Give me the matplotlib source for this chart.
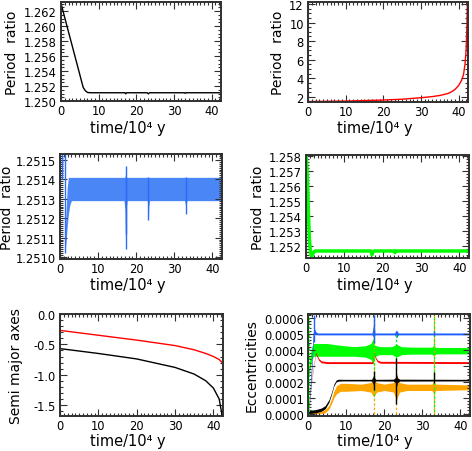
import numpy as np
import matplotlib
matplotlib.use("Agg")
import matplotlib.pyplot as plt
from matplotlib.ticker import MultipleLocator, AutoMinorLocator, FormatStrFormatter

plt.rcParams['font.family'] = ['DejaVu Sans']
plt.rcParams['mathtext.default'] = 'regular'

# ---------------- data ----------------
# Panel 1: period ratio (black)
p1_t = [0.0, 5.9, 6.5, 7.1, 8.0, 17.0, 17.2, 17.4, 22.9, 23.2, 23.5, 32.8, 33.0, 33.2, 42.3]
p1_r = [1.2630, 1.2518, 1.25135, 1.25113, 1.2511, 1.2511, 1.25095, 1.2511, 1.2511, 1.25095, 1.2511,
        1.2511, 1.25102, 1.2511, 1.2511]

# Panel 2: period ratio (red)
p2_t = [0.0, 10.0, 20.0, 25.0, 30.0, 33.0, 35.0, 37.0, 38.0, 39.0, 40.0, 40.8, 41.3, 41.7, 42.0, 42.2, 42.35]
p2_r = [1.52, 1.57, 1.68, 1.77, 1.93, 2.05, 2.17, 2.36, 2.53, 2.80, 3.23, 3.8, 4.4, 5.5, 7.0, 9.5, 12.3]

# Panel 3: period ratio (blue), scatter band envelope + spikes
p3_t = [1.3, 1.6, 1.9, 2.2, 2.6, 3.0, 16.8, 17.05, 17.2, 17.35, 17.6, 22.9, 23.1, 23.2, 23.3, 23.5,
        32.7, 32.9, 33.0, 33.1, 33.3, 42.3]
p3_lo = [1.25102, 1.25108, 1.25116, 1.25122, 1.25127, 1.25129, 1.25129, 1.25124, 1.25106, 1.25124, 1.25129,
         1.25129, 1.25126, 1.25119, 1.25126, 1.25129, 1.25129, 1.25127, 1.25123, 1.25127, 1.25129, 1.25129]
p3_hi = [1.25110, 1.25124, 1.25136, 1.25141, 1.25141, 1.25141, 1.25141, 1.25141, 1.25143, 1.25141, 1.25141,
         1.25141, 1.25141, 1.25141, 1.25141, 1.25141, 1.25141, 1.25141, 1.25141, 1.25141, 1.25141, 1.25141]
p3_spk_t = [0.4, 1.2, 17.2, 17.3, 23.2, 33.0]
p3_spk_lo = [1.25140, 1.25102, 1.25104, 1.25112, 1.25119, 1.25122]
p3_spk_hi = [1.25156, 1.25156, 1.25147, 1.25141, 1.25141, 1.25141]

# Panel 4: period ratio (green)
p4_t = [0.0, 0.3, 0.6, 0.9, 1.2, 1.5, 1.9, 2.4, 17.0, 17.2, 17.4, 17.8, 23.0, 23.2, 23.4, 42.3]
p4_r = [1.2582, 1.2570, 1.2545, 1.2524, 1.2515, 1.2513, 1.25155, 1.25166, 1.25166, 1.25140, 1.25158, 1.25166,
        1.25166, 1.25155, 1.25166, 1.25166]

# Panel 5: log semi major axes
p5_t = [0.0, 10.0, 20.0, 30.0, 35.0, 38.0, 40.0, 41.5, 42.3]
p5_a_out = [-0.27, -0.35, -0.43, -0.52, -0.59, -0.65, -0.70, -0.75, -0.80]
p5_a_in = [-0.57, -0.65, -0.74, -0.88, -0.99, -1.10, -1.22, -1.40, -1.68]

# Panel 6: eccentricities, band centre and half width per planet
ek_t = [0.0, 2.0, 3.5, 4.5, 5.5, 6.2, 6.8, 7.4, 8.0, 9.0, 16.7, 17.2, 17.7, 22.4, 22.9, 23.2, 23.5, 24.0, 42.3]
ek_c = [0.00001, 0.000015, 0.000025, 0.00004, 0.00008, 0.00013, 0.00018, 0.000205, 0.00021, 0.00021,
        0.00021, 0.00021, 0.00021, 0.00021, 0.00021, 0.00021, 0.00021, 0.00021, 0.00021]
ek_w = [0.00001, 0.00001, 0.00001, 0.00001, 0.000008, 0.000006, 0.000006, 0.000006, 0.000006, 0.000005,
        0.000005, 0.00003, 0.000005, 0.000006, 0.000015, 0.00004, 0.000015, 0.000006, 0.000005]
ek_spk_t = [17.2, 23.2, 33.0]
ek_spk_lo = [0.00015, 0.00006, 0.00019]
ek_spk_hi = [0.00027, 0.00035, 0.00026]

eo_t = [0.0, 3.0, 4.5, 5.5, 6.2, 6.8, 7.5, 8.5, 10.0, 14.0, 16.5, 17.2, 18.0, 20.0, 22.4, 23.2, 24.0, 26.0,
        32.5, 33.0, 33.5, 42.3]
eo_c = [0.000003, 0.000005, 0.000015, 0.00004, 0.00008, 0.00012, 0.00015, 0.000165, 0.000165, 0.000165,
        0.000165, 0.000165, 0.000165, 0.000165, 0.000165, 0.000165, 0.000165, 0.000165, 0.000165, 0.000165,
        0.000165, 0.000165]
eo_w = [0.000005, 0.000006, 0.00001, 0.000012, 0.000015, 0.00002, 0.000025, 0.000025, 0.000025, 0.00002,
        0.00003, 0.00006, 0.00003, 0.00002, 0.00003, 0.00008, 0.00003, 0.00002, 0.00002, 0.00004, 0.00002,
        0.000015]
eo_spk_t = [17.2, 23.2, 33.0]
eo_spk_lo = [0.0, 0.0, 0.0]
eo_spk_hi = [0.00062, 0.00030, 0.00062]

er_t = [0.0, 0.3, 1.0, 1.5, 2.0, 2.4, 2.8, 3.5, 5.0, 17.0, 17.3, 17.7, 18.2, 19.0, 42.3]
er_c = [0.00005, 0.00008, 0.00022, 0.0003, 0.00038, 0.00036, 0.00034, 0.000325, 0.00032, 0.00032, 0.00038,
        0.00035, 0.00033, 0.000322, 0.00032]
er_w = 0.000006

eg_t = [0.0, 0.3, 0.7, 1.0, 1.5, 2.5, 5.0, 8.0, 12.0, 15.0, 16.5, 17.1, 17.4, 18.0, 19.0, 22.0, 23.2, 24.5,
        27.0, 32.5, 33.0, 33.5, 42.3]
eg_c = [0.0002, 0.00028, 0.00034, 0.00038, 0.0004, 0.0004, 0.0004, 0.000395, 0.00039, 0.00039, 0.00039,
        0.00039, 0.00039, 0.000395, 0.000395, 0.000395, 0.000395, 0.000395, 0.000395, 0.000395, 0.000395,
        0.000395, 0.000395]
eg_w = [0.00002, 0.00003, 0.00004, 0.00004, 0.00004, 0.00004, 0.00004, 0.000035, 0.00003, 0.000035, 0.00005,
        0.00008, 0.00004, 0.00003, 0.000025, 0.000025, 0.00004, 0.000025, 0.000022, 0.000022, 0.000035,
        0.00002, 0.00002]
eg_spk_t = [0.2, 17.2, 23.2, 33.0]
eg_spk_lo = [0.0, 0.0001, 0.0003, 0.0]
eg_spk_hi = [0.0006, 0.00062, 0.0005, 0.00062]

eb_t = [0.2, 0.6, 1.0, 1.3, 1.6, 2.0, 2.5, 16.8, 17.2, 17.6, 22.7, 23.2, 23.7, 42.3]
eb_c = [0.0, 0.00015, 0.0003, 0.00045, 0.00052, 0.000505, 0.0005, 0.0005, 0.00052, 0.0005, 0.0005, 0.0005,
        0.0005, 0.0005]
eb_w = [0.00001, 0.00003, 0.00004, 0.00004, 0.00002, 0.00001, 0.000006, 0.000006, 0.00004, 0.000006,
        0.000006, 0.000025, 0.000006, 0.000006]
eb_spk_t = [1.5, 17.2, 33.0]
eb_spk_lo = [0.00045, 0.00044, 0.00049]
eb_spk_hi = [0.00062, 0.00062, 0.00052]

xticks = [0, 10, 20, 30, 40]
xlabel = 'time/10\u2074 y'

# ---------------- figure ----------------
W, H = 472, 452
fig = plt.figure(figsize=(W / 100, H / 100), dpi=100)


def add_ax(l, r, t, b):
    return fig.add_axes([l / W, 1 - b / H, (r - l) / W, (b - t) / H])


def style(ax, ylim, ymaj, yminor, fmt):
    ax.set_xlim(0, 42.5)
    ax.set_ylim(*ylim)
    ax.set_xticks(xticks)
    ax.xaxis.set_minor_locator(AutoMinorLocator(10))
    ax.yaxis.set_major_locator(MultipleLocator(ymaj))
    ax.yaxis.set_minor_locator(AutoMinorLocator(yminor))
    ax.yaxis.set_major_formatter(FormatStrFormatter(fmt))
    ax.tick_params(which='both', direction='in', top=True, right=True, color='#303030',
                   labelsize=8.3, width=0.8)
    ax.tick_params(which='major', length=5)
    ax.tick_params(axis='x', which='major', pad=2.5)
    ax.tick_params(axis='y', which='major', pad=3)
    ax.tick_params(which='minor', length=2.5)
    for s in ax.spines.values():
        s.set_linewidth(1.4)
        s.set_color('#303030')


def labels(ax, ytext, ycx, xcx, xcy):
    pos = ax.get_position()
    fig.text(ycx / W, (pos.y0 + pos.y1) / 2, ytext, rotation=90, ha='center', va='center', fontsize=10)
    fig.text(xcx / W, 1 - xcy / H, xlabel, ha='center', va='center', fontsize=10.5)


# Panel 1
ax1 = add_ax(61, 221, 3, 102)
ax1.plot(p1_t, p1_r, color='black', lw=1.0)
style(ax1, (1.2500, 1.2632), 0.002, 4, '%.3f')
labels(ax1, 'Period  ratio', 12, 128, 128)

# Panel 2
ax2 = add_ax(308, 468, 3, 103)
ax2.plot(p2_t, p2_r, color='#ff0000', lw=1.0)
style(ax2, (1.47, 12.2), 2, 4, '%d')
labels(ax2, 'Period  ratio', 278, 375, 128)

# Panel 3
ax3 = add_ax(60, 222, 155, 260)
ax3.fill_between(p3_t, p3_lo, p3_hi, color='#4a86f6', lw=0)
ax3.vlines(p3_spk_t, p3_spk_lo, p3_spk_hi, color='#2d6cf5', lw=1.0)
style(ax3, (1.25099, 1.25153), 0.0001, 10, '%.4f')
labels(ax3, 'Period  ratio', 7, 128, 286)

# Panel 4
ax4 = add_ax(306, 469, 156, 259)
ax4.plot(p4_t, p4_r, color='#00ff00', lw=2.5)
style(ax4, (1.25119, 1.2581), 0.001, 5, '%.3f')
labels(ax4, 'Period  ratio', 258, 375, 286)

# Panel 5
ax5 = add_ax(60, 223, 315, 417)
ax5.plot(p5_t, p5_a_out, color='#ff0000', lw=1.0)
ax5.plot(p5_t, p5_a_in, color='black', lw=1.0)
style(ax5, (-1.68, 0.0), 0.5, 5, '%.1f')
labels(ax5, 'Semi major axes', 16, 128, 442)

# Panel 6
ax6 = add_ax(308, 470, 315, 417)


def band(t, c, w, col):
    c = np.asarray(c)
    w = np.asarray(w)
    ax6.fill_between(t, c - w, c + w, color=col, lw=0)


band(eo_t, eo_c, eo_w, '#ffa500')
ax6.vlines(eo_spk_t, eo_spk_lo, eo_spk_hi, color='#ffa500', lw=0.9, linestyles=(0, (2, 1.5)))
band(eg_t, eg_c, eg_w, '#00ff00')
ax6.vlines(eg_spk_t, eg_spk_lo, eg_spk_hi, color='#00ff00', lw=0.9, linestyles=(1.5, (2, 1.5)))
band(er_t, er_c, er_w, '#ff0000')
band(ek_t, ek_c, ek_w, 'black')
ax6.vlines(ek_spk_t, ek_spk_lo, ek_spk_hi, color='black', lw=1.0)
band(eb_t, eb_c, eb_w, '#1f5fff')
ax6.vlines(eb_spk_t, eb_spk_lo, eb_spk_hi, color='#1f5fff', lw=1.0)
style(ax6, (-0.000015, 0.000625), 0.0001, 5, '%.4f')
labels(ax6, 'Eccentricities', 252, 375, 442)

fig.savefig('out.png', dpi=100)
